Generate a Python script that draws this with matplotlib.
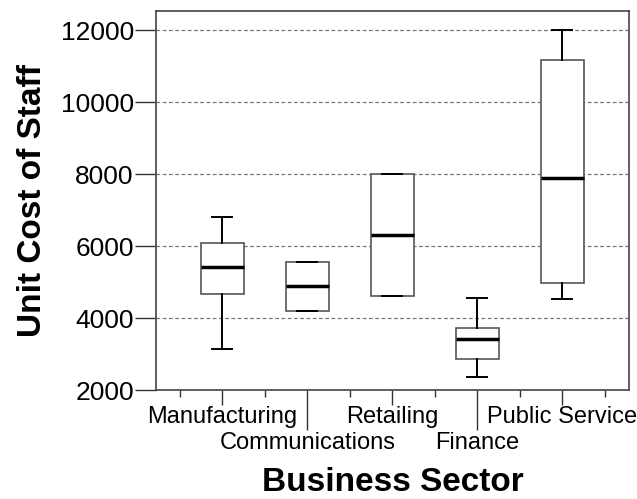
import matplotlib
matplotlib.use("Agg")
import matplotlib.pyplot as plt

plt.rcParams["font.family"] = ["Liberation Sans", "DejaVu Sans"]

sectors = ["Manufacturing", "Communications", "Retailing", "Finance", "Public Service"]
whisker_low = [3130, 4200, 4620, 2370, 4530]
q1 = [4660, 4200, 4620, 2860, 4960]
median = [5410, 4880, 6320, 3430, 7880]
q3 = [6080, 5570, 8000, 3710, 11180]
whisker_high = [6800, 5570, 8000, 4550, 12000]

stats = []
for i, name in enumerate(sectors):
    stats.append({"label": name, "whislo": whisker_low[i], "q1": q1[i], "med": median[i],
                  "q3": q3[i], "whishi": whisker_high[i], "fliers": []})

fig = plt.figure(figsize=(6.37, 4.99), dpi=100)
ax = fig.add_axes([0.2449, 0.2184, 0.7425, 0.7596])

positions = list(range(1, len(sectors) + 1))
ax.bxp(stats, positions=positions, widths=0.5, showfliers=False, patch_artist=True,
       boxprops=dict(facecolor="white", edgecolor="#555555", linewidth=1.2),
       medianprops=dict(color="black", linewidth=2.5),
       whiskerprops=dict(color="black", linewidth=1.4),
       capprops=dict(color="black", linewidth=1.4), capwidths=0.235)

ax.set_ylim(2000, 12530)
ax.set_xlim(0.22, 5.785)
ax.set_yticks([2000, 4000, 6000, 8000, 10000, 12000])
for y in [4000, 6000, 8000, 10000, 12000]:
    ax.axhline(y, color="#777777", linestyle=(0, (3, 2)), linewidth=0.9, zorder=0)

ax.set_xticks(positions)
ax.set_xticklabels(sectors, fontsize=17)
ax.set_xticks([p + 0.5 for p in range(0, 6)], minor=True)
ax.tick_params(axis="x", which="major", length=10.8, width=1, color="#333333", pad=1)
ax.tick_params(axis="x", which="minor", length=5, width=1, color="#333333")
ax.tick_params(axis="y", which="major", length=15, width=1, color="#333333", labelsize=19, pad=1)
# every second category label sits on a lower row, with a longer tick
for i, t in enumerate(ax.xaxis.get_major_ticks()):
    if i % 2 == 1:
        t.set_pad(19.5)
        t.tick1line.set_markersize(29)

for sp in ax.spines.values():
    sp.set_color("#444444")
    sp.set_linewidth(1.2)

ax.set_ylabel("Unit Cost of Staff", fontsize=24, fontweight="bold", labelpad=9)
ax.set_xlabel("Business Sector", fontsize=24, fontweight="bold")
ax.xaxis.set_label_coords(0.5, -0.203)

fig.savefig("out.png", dpi=100)
